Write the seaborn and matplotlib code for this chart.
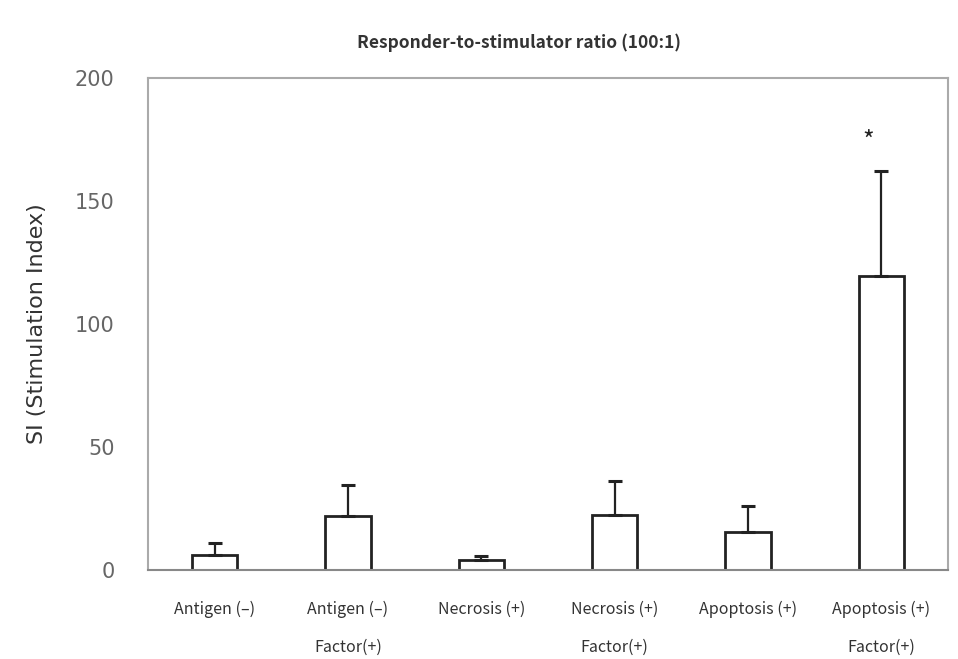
import numpy as np
import pandas as pd
import seaborn as sns
from matplotlib import pyplot as plt

categories = ['Antigen (\u2013)', 'Antigen (\u2013)\nFactor(+)', 'Necrosis (+)',
              'Necrosis (+)\nFactor(+)', 'Apoptosis (+)', 'Apoptosis (+)\nFactor(+)']
si_mean = [6, 22, 4, 22.5, 15.5, 119.5]
si_err = [5, 12.5, 1.5, 13.5, 10.5, 42.5]
star_y = 174
y_ticks = [0, 50, 100, 150, 200]

sns.set_style('white')
plt.rcParams['font.family'] = ['Noto Sans CJK KR', 'DejaVu Sans']

df = pd.DataFrame({'group': categories, 'si': si_mean})

fig = plt.figure(figsize=(9.58, 6.59), dpi=100)
ax = fig.add_axes([148 / 958, 1 - 570 / 659, 800 / 958, 492 / 659])

sns.barplot(data=df, x='group', y='si', color='white', edgecolor='#222222',
            linewidth=2, width=0.34, saturation=1, ax=ax)
xs = np.arange(len(categories))
ax.errorbar(xs, si_mean, yerr=[np.zeros(len(si_err)), si_err], fmt='none',
            ecolor='#222222', elinewidth=1.6, capsize=5, capthick=2.2)
ax.text(xs[-1] - 0.1, star_y, '*', ha='center', va='center', fontsize=18, color='#222222')

ax.set_ylim(0, 200)
ax.set_xlim(-0.5, len(categories) - 0.5)
ax.set_yticks(y_ticks)
ax.tick_params(axis='y', direction='in', length=5, color='#999999', labelsize=15,
               labelcolor='#666666', pad=24)
ax.tick_params(axis='x', length=0, labelsize=11.5, labelcolor='#333333', pad=22)
for lab in ax.get_xticklabels():
    lab.set_linespacing(2.6)
    lab.set_va('top')
for s in ax.spines.values():
    s.set_color('#aaaaaa')
    s.set_linewidth(1.5)
ax.spines['bottom'].set_color('#888888')
ax.set_xlabel('')
ax.set_ylabel('SI (Stimulation Index)', fontsize=16, color='#333333', labelpad=20,
              family='DejaVu Sans')
for lab in ax.get_yticklabels():
    lab.set_family('DejaVu Sans')

fig.text(519 / 958, 1 - 43 / 659, 'Responder-to-stimulator ratio (100:1)', ha='center',
         va='center', fontsize=12.5, fontweight='bold', color='#333333')

fig.savefig('out.png', dpi=100)
